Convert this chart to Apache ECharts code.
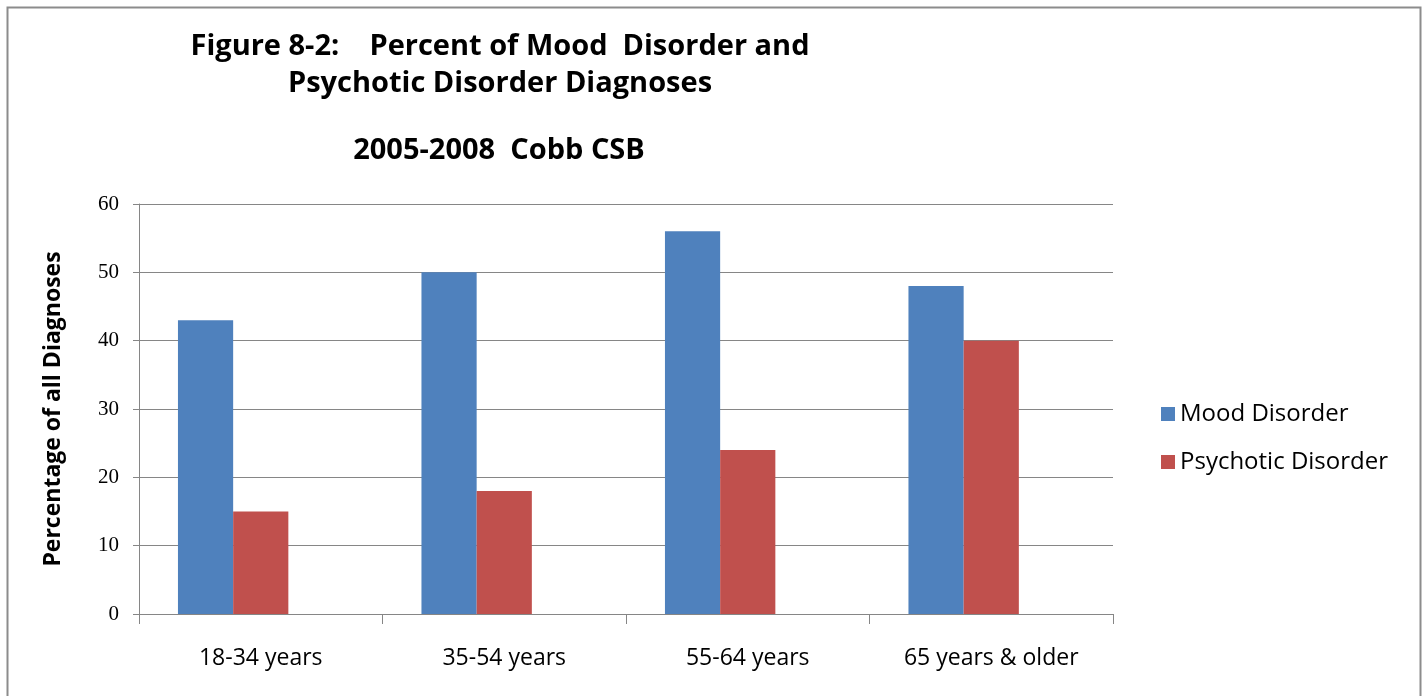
<!DOCTYPE html>
<html>
<head>
<meta charset="utf-8">
<script src="https://cdn.jsdelivr.net/npm/echarts@6/dist/echarts.min.js"></script>
<style>
  html, body { margin: 0; padding: 0; background: #fff; }
  #chart { width: 1423px; height: 696px; }
</style>
</head>
<body>
<div id="chart"></div>
<script>
const categories = ["18-34 years", "35-54 years", "55-64 years", "65 years & older"]
const moodDisorder = [43, 50, 56, 48]
const psychoticDisorder = [15, 18, 24, 40]
// the source chart keeps an empty third slot next to each pair of bars
const emptySlot = [null, null, null, null]
const yTicks = [0, 10, 20, 30, 40, 50, 60]

const sans = "'Open Sans', sans-serif"

const chart = echarts.init(document.getElementById("chart"))

chart.setOption({
  animation: false,
  backgroundColor: "#fff",
  graphic: [
    {
      type: "rect",
      left: 5,
      top: 5,
      shape: { width: 1413, height: 700 },
      style: { fill: "none", stroke: "#8c8c8c", lineWidth: 2 },
    },
    {
      type: "text",
      x: 500,
      y: 28,
      style: {
        text: "Figure 8-2:    Percent of Mood  Disorder and\nPsychotic Disorder Diagnoses",
        font: "bold 29px " + sans,
        fill: "#000",
        align: "center",
        lineHeight: 37,
      },
    },
    {
      type: "text",
      x: 499,
      y: 136,
      style: {
        text: "2005-2008  Cobb CSB",
        font: "bold 29px " + sans,
        fill: "#000",
        align: "center",
      },
    },
  ],
  legend: {
    orient: "vertical",
    left: 1156,
    top: 397,
    itemWidth: 14,
    itemHeight: 14,
    itemGap: 24,
    icon: "rect",
    textStyle: { fontSize: 24, fontFamily: sans, color: "#000" },
    data: ["Mood Disorder", "Psychotic Disorder"],
  },
  grid: { left: 139, right: 310, top: 204, bottom: 82 },
  xAxis: {
    type: "category",
    data: categories,
    axisLine: { lineStyle: { color: "#868686" } },
    axisTick: { show: true, length: 10, lineStyle: { color: "#868686" } },
    axisLabel: { fontSize: 23, fontFamily: sans, color: "#000", margin: 33 },
  },
  yAxis: {
    type: "value",
    min: 0,
    max: 60,
    interval: 10,
    name: "Percentage of all Diagnoses",
    nameLocation: "middle",
    nameGap: 74,
    nameTextStyle: { fontSize: 23, fontWeight: "bold", fontFamily: sans, color: "#000" },
    axisLine: { show: true, lineStyle: { color: "#868686" } },
    axisTick: { show: true, inside: false, length: 6, lineStyle: { color: "#868686" } },
    axisLabel: {
      fontSize: 21,
      fontFamily: "'Liberation Serif', serif",
      color: "#000",
      margin: 20,
      formatter: (v) => (yTicks.includes(v) ? String(v) : ""),
    },
    splitLine: { lineStyle: { color: "#868686" } },
  },
  series: [
    {
      name: "Mood Disorder",
      type: "bar",
      data: moodDisorder,
      barGap: "0%",
      barCategoryGap: "32%",
      itemStyle: { color: "#4F81BD" },
    },
    {
      name: "Psychotic Disorder",
      type: "bar",
      data: psychoticDisorder,
      itemStyle: { color: "#C0504D" },
    },
    {
      name: "empty",
      type: "bar",
      data: emptySlot,
      itemStyle: { color: "#fff" },
    },
  ],
})
</script>
</body>
</html>
